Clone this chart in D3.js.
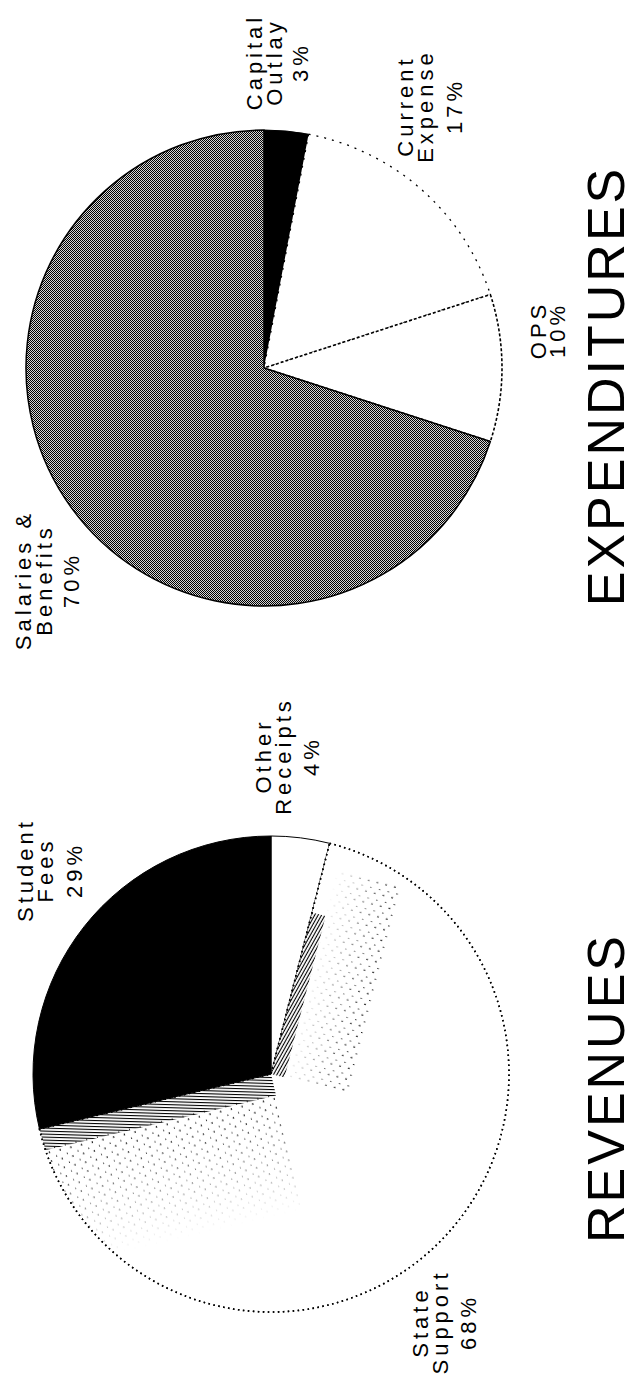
<!DOCTYPE html>
<html>
<head>
<meta charset="utf-8">
<script src="https://cdn.jsdelivr.net/npm/d3@7"></script>
<style>
    body { margin: 0; background: #fff; }
    svg { display: block; }
    text { font-family: "Liberation Sans", Arial, Helvetica, sans-serif; fill: #000; }
</style>
</head>
<body>
<div id="chart"></div>
<script>
// data
const revCategories = ["Other Receipts", "State Support", "Student Fees"];
const revValues = [4, 68, 29];
const revLabels = [["Other", "Receipts", "4%"], ["State", "Support", "68%"], ["Student", "Fees", "29%"]];

const expCategories = ["Capital Outlay", "Current Expense", "OPS", "Salaries & Benefits"];
const expValues = [3, 17, 10, 70];
const expLabels = [["Capital", "Outlay", "3%"], ["Current", "Expense", "17%"], ["OPS", "10%"], ["Salaries &", "Benefits", "70%"]];

const titles = ["EXPENDITURES", "REVENUES"];

// page is printed sideways: text runs bottom to top
const width = 636, height = 1382, radius = 238;

const svg = d3.select("#chart").append("svg")
    .attr("width", width)
    .attr("height", height);

const defs = svg.append("defs");

// halftone for salaries
const checker = defs.append("pattern")
    .attr("id", "checker")
    .attr("patternUnits", "userSpaceOnUse")
    .attr("width", 2).attr("height", 2);
checker.append("rect").attr("width", 2).attr("height", 2).attr("fill", "#d4d4d4");
checker.append("rect").attr("width", 1).attr("height", 1).attr("fill", "#000");
checker.append("rect").attr("x", 1).attr("y", 1).attr("width", 1).attr("height", 1).attr("fill", "#000");

// hatch next to student fees edge
const hatch = defs.append("pattern")
    .attr("id", "hatch")
    .attr("patternUnits", "userSpaceOnUse")
    .attr("width", 3).attr("height", 6)
    .attr("patternTransform", "rotate(-75)");
hatch.append("rect").attr("width", 1.1).attr("height", 6).attr("fill", "#000");

// sparse dots
const dots = defs.append("pattern")
    .attr("id", "dots")
    .attr("patternUnits", "userSpaceOnUse")
    .attr("width", 11).attr("height", 9);
dots.append("rect").attr("x", 2).attr("y", 1).attr("width", 1.2).attr("height", 2).attr("fill", "#000");
dots.append("rect").attr("x", 7).attr("y", 5).attr("width", 1).attr("height", 1.5).attr("fill", "#000");

// fade the dots away from the edge
const fade = defs.append("linearGradient")
    .attr("id", "fade")
    .attr("x1", 0).attr("y1", 1).attr("x2", 0).attr("y2", 0);
fade.append("stop").attr("offset", 0).attr("stop-color", "#fff").attr("stop-opacity", 0.9);
fade.append("stop").attr("offset", 1).attr("stop-color", "#fff").attr("stop-opacity", 0);
defs.append("mask")
    .attr("id", "fadeMask")
    .attr("maskContentUnits", "objectBoundingBox")
    .append("rect")
    .attr("width", 1).attr("height", 1)
    .attr("fill", "url(#fade)");

const pie = d3.pie().sort(null).value(d => d);
const arc = d3.arc().innerRadius(0).outerRadius(radius);

const expStyles = [
    { fill: "#000", stroke: "#000", width: 1, dash: null },
    { fill: "#fff", stroke: "#000", width: 1.3, dash: "2,6" },
    { fill: "#fff", stroke: "#000", width: 1.6, dash: "3,2" },
    { fill: "url(#checker)", stroke: "#000", width: 1.5, dash: null }
];
const revStyles = [
    { fill: "#fff", stroke: "#000", width: 1, dash: null },
    { fill: "#fff", stroke: "#000", width: 1.6, dash: "1.5,3.5" },
    { fill: "#000", stroke: "#000", width: 1, dash: null }
];

// label positions: first baseline x, centre y, line offsets
const expLabelPos = [
    { x: 262, y: 62, dx: [0, 20, 46] },
    { x: 413, y: 106, dx: [0, 20, 49] },
    { x: 546, y: 330, dx: [0, 19] },
    { x: 31, y: 580, dx: [0, 21, 48] }
];
const revLabelPos = [
    { x: 271, y: 756, dx: [0, 20, 48] },
    { x: 428, y: 1322, dx: [0, 20, 48] },
    { x: 33, y: 870, dx: [0, 20, 49] }
];

function drawPie(cx, cy, values, styles) {
    const g = svg.append("g").attr("transform", `translate(${cx},${cy})`);
    const slices = pie(values);

    g.selectAll("path.slice")
        .data(slices)
        .join("path")
        .attr("class", "slice")
        .attr("d", arc)
        .attr("fill", (d, i) => styles[i].fill)
        .attr("stroke", (d, i) => styles[i].stroke)
        .attr("stroke-width", (d, i) => styles[i].width)
        .attr("stroke-dasharray", (d, i) => styles[i].dash)
        .attr("stroke-linejoin", "round");

    return { g, slices };
}

// band of screen texture running along a slice edge, clipped to the slice
function edgeBand(g, slice, angle, fill, y0, y1, len, id, faded) {
    defs.append("clipPath").attr("id", id)
        .append("path").attr("d", arc(slice));
    const r = g.append("g")
        .attr("clip-path", `url(#${id})`)
        .append("g")
        .attr("transform", `rotate(${angle * 180 / Math.PI - 90})`)
        .append("rect")
        .attr("x", 0).attr("y", y0)
        .attr("width", len).attr("height", y1 - y0)
        .attr("fill", fill);
    if (faded) r.attr("mask", "url(#fadeMask)");
}

function drawLabels(lines, pos) {
    lines.forEach((ls, i) => {
        const t = svg.append("text")
            .attr("transform", `translate(${pos[i].x},${pos[i].y}) rotate(-90)`)
            .attr("text-anchor", "middle")
            .style("font-size", "22px")
            .style("letter-spacing", "4px");
        ls.forEach((s, j) => {
            t.append("tspan")
                .attr("x", 0)
                .attr("y", pos[i].dx[j])
                .text(s);
        });
    });
}

// expenditures (top of page)
drawPie(264, 368, expValues, expStyles);
drawLabels(expLabels, expLabelPos);

// revenues (bottom of page)
const rev = drawPie(271, 1074, revValues, revStyles);
const state = rev.slices[1];
edgeBand(rev.g, state, state.endAngle, "url(#dots)", -140, -18, radius, "clipS1", true);
edgeBand(rev.g, state, state.endAngle, "url(#hatch)", -22, 0, radius, "clipS2", false);
edgeBand(rev.g, state, state.startAngle, "url(#dots)", 12, 80, radius * 0.9, "clipS3", true);
edgeBand(rev.g, state, state.startAngle, "url(#hatch)", 0, 14, radius * 0.7, "clipS4", false);
// redraw the state support outline over the texture
rev.g.append("path")
    .attr("d", arc(state))
    .attr("fill", "none")
    .attr("stroke", "#000")
    .attr("stroke-width", 1.6)
    .attr("stroke-dasharray", "1.5,3.5");
drawLabels(revLabels, revLabelPos);

// titles
const titlePos = [{ x: 624, y: 386 }, { x: 624, y: 1088 }];
titles.forEach((s, i) => {
    svg.append("text")
        .attr("transform", `translate(${titlePos[i].x},${titlePos[i].y}) rotate(-90)`)
        .attr("text-anchor", "middle")
        .style("font-size", "52px")
        .style("letter-spacing", "3px")
        .text(s);
});
</script>
</body>
</html>
